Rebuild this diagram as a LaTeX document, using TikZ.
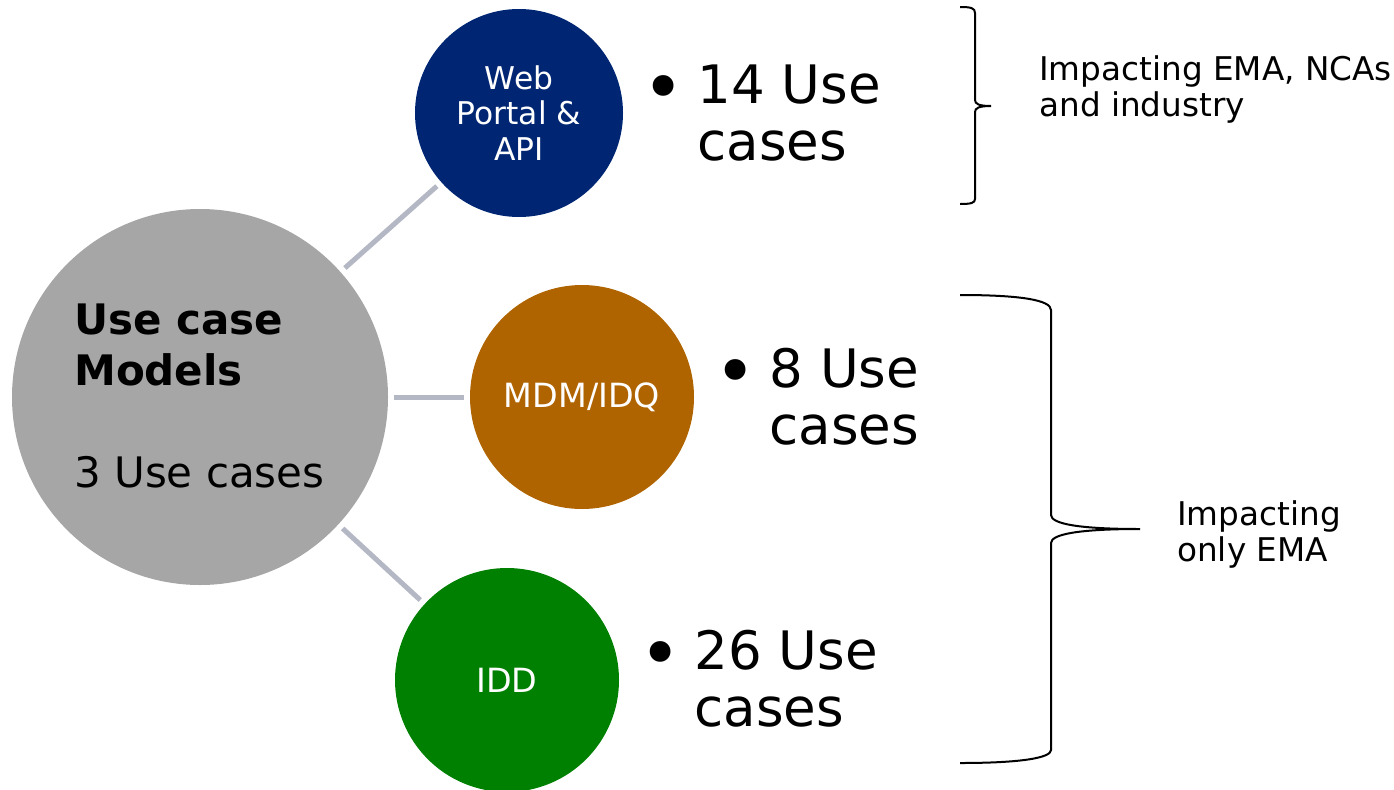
\documentclass[tikz,border=0pt]{standalone}
\usepackage{fontspec}
\setmainfont{DejaVu Sans}
\usepackage{xcolor}
\usepackage{tikz}

\definecolor{webblue}{HTML}{002673}
\definecolor{mdmbrown}{HTML}{AF6400}
\definecolor{iddgreen}{HTML}{008000}
\definecolor{modelgray}{HTML}{A6A6A6}
\definecolor{linkgray}{HTML}{B4B7C4}

\tikzset{
	bubble/.style={circle,inner sep=0pt,outer sep=0pt,text=white,align=center,
		font=\fontsize{23.5}{26.6}\selectfont},
	link/.style={linkgray,line width=3.75pt,shorten <=4.5pt,shorten >=4.5pt},
	bracepen/.style={black,line width=1.5pt},
}

\newcommand{\bulletrow}[2]{%
	\fontsize{39.75}{42.75}\selectfont
	\begin{tabular}[t]{@{}l@{}l@{}}\makebox[37pt][l]{\hspace{-4pt}\raisebox{-7pt}{\scalebox{1.35}{•}}}&#1\\&#2\end{tabular}}

\begin{document}
\begin{tikzpicture}[x=0.75pt,y=-0.75pt]
	\useasboundingbox (0,0) rectangle (1394,789);

	% circles
	\node[bubble,fill=modelgray,minimum size=282pt] (models) at (200,397) {};
	\node[bubble,fill=webblue,minimum size=156pt] (web) at (519,113) {Web\\Portal \&\\API};
	\node[bubble,fill=mdmbrown,minimum size=168pt,font=\fontsize{25}{28}\selectfont] (mdm) at (582,397) {MDM/IDQ};
	\node[bubble,fill=iddgreen,minimum size=168pt,font=\fontsize{25}{28}\selectfont] (idd) at (507,680) {IDD};

	\node[anchor=base west,inner sep=0pt] (modelstext) at (74,334) {%
		\fontsize{31.5}{38.25}\selectfont
		\begin{tabular}[t]{@{}l@{}}\textbf{Use case}\\\textbf{Models}\\ \\3 Use cases\end{tabular}};

	\foreach \t in {web,mdm,idd}
		\draw[link] (models) -- (\t);

	% use case counts
	\node[anchor=base west,inner sep=0pt] (webcount) at (648,103) {\bulletrow{14 Use}{cases}};
	\node[anchor=base west,inner sep=0pt] (mdmcount) at (720,387) {\bulletrow{8 Use}{cases}};
	\node[anchor=base west,inner sep=0pt] (iddcount) at (645,669) {\bulletrow{26 Use}{cases}};

	% braces
	\draw[bracepen] (960,7) .. controls (971,7) and (975,8) .. (975,13) -- (975,100)
		.. controls (975,104) and (979,106) .. (991,106)
		.. controls (979,106) and (975,108) .. (975,112) -- (975,199)
		.. controls (975,203) and (971,204) .. (960,204);
	\draw[bracepen] (960,295) .. controls (1020,295) and (1051,300) .. (1051,310) -- (1051,515)
		.. controls (1051,524) and (1080,529) .. (1140,529)
		.. controls (1080,529) and (1051,534) .. (1051,543) -- (1051,750)
		.. controls (1051,758) and (1020,763) .. (960,763);

	\node[anchor=base west,inner sep=0pt] (topnote) at (1039,80) {%
		\fontsize{24.5}{27}\selectfont
		\begin{tabular}[t]{@{}l@{}}Impacting EMA, NCAs\\and industry\end{tabular}};
	\node[anchor=base west,inner sep=0pt] (bottomnote) at (1177,525) {%
		\fontsize{24.5}{27}\selectfont
		\begin{tabular}[t]{@{}l@{}}Impacting\\only EMA\end{tabular}};
\end{tikzpicture}
\end{document}
